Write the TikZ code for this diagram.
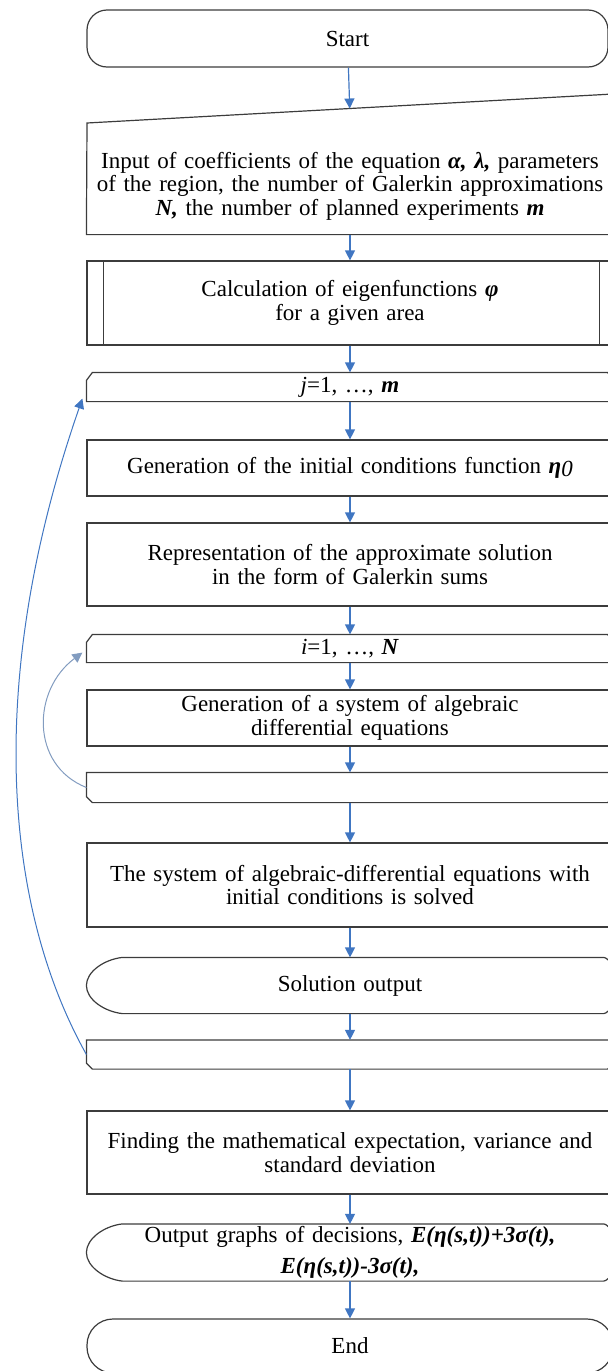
\documentclass[tikz,border=0pt]{standalone}
\usepackage{fontspec}
\setmainfont{Liberation Serif}
\usetikzlibrary{arrows.meta, calc}
\definecolor{flowblue}{RGB}{64,118,194}
\definecolor{loopgray}{RGB}{130,156,192}
\definecolor{edgegray}{RGB}{60,60,60}
\newcommand{\bfit}[1]{\textbf{\textit{#1}}}

\begin{document}
\begin{tikzpicture}[x=0.5pt, y=-0.5pt, line width=0.6pt,
    box/.style={draw=edgegray, minimum width=263pt, text width=258pt, align=center,
      inner sep=0pt, font=\fontsize{11.5}{11.8}\selectfont},
    ghost/.style={box, draw=none},
    outline/.style={draw=edgegray},
    flow/.style={draw=flowblue, -{Triangle[length=5pt, width=5pt]}},
    back/.style={flow, line width=0.5pt}]
  \useasboundingbox (0,0) rectangle (608,1371);
  \clip (0,0) rectangle (608,1371);

  % blocks, top to bottom
  \node[box, rounded corners=10pt, minimum width=260.5pt, minimum height=28.5pt] (start) at (347.5,38.5) {Start};
  \node[ghost, minimum height=48pt] (inp) at (350,186)
    {Input of coefficients of the equation \bfit{α, λ,} parameters\\
     of the region, the number of Galerkin approximations\\
     \bfit{N,} the number of planned experiments \bfit{m}};
  \node[box, minimum height=42pt] (calc) at (350,303)
    {Calculation of eigenfunctions \bfit{φ}\\ for a given area};
  \node[ghost, minimum height=14pt] (jloop) at (350,387) {\textit{j}=1, …, \bfit{m}};
  \node[box, minimum height=28pt] (gen0) at (350,468)
    {Generation of the initial conditions function \bfit{η}\raisebox{-0.3ex}{\textit{0}}};
  \node[box, minimum height=41.5pt] (repr) at (350,564.5)
    {Representation of the approximate solution\\ in the form of Galerkin sums};
  \node[ghost, minimum height=13.5pt] (iloop) at (350,648.5) {\textit{i}=1, …, \bfit{N}};
  \node[box, minimum height=28pt] (gensys) at (350,718)
    {Generation of a system of algebraic\\ differential equations};
  \node[ghost, minimum height=14.5pt] (iend) at (350,787.5) {};
  \node[box, minimum height=42pt] (solve) at (350,885)
    {The system of algebraic-differential equations with\\ initial conditions is solved};
  \node[ghost, minimum height=27.5pt] (outsol) at (350,985.5) {Solution output};
  \node[ghost, minimum height=14pt] (jend) at (350,1054.5) {};
  \node[box, minimum height=41.5pt] (stats) at (350,1152.5)
    {Finding the mathematical expectation, variance and\\ standard deviation};
  \node[ghost, minimum height=28pt] (outgr) at (350,1252.5)
    {Output graphs of decisions, \bfit{E(η(s,t))+3σ(t),}\\[4pt] \bfit{E(η(s,t))-3σ(t),}};
  \node[box, rounded corners=13pt, minimum height=27pt] (fin) at (350,1346) {End};

  % outlines of the special blocks
  \coordinate (inNW) at (87,123);
  \coordinate (inNE) at (613,94);
  \draw[outline] (inp.south west) -- (inNW) -- (inNE) -- (inp.south east) -- cycle;
  \draw[outline] ([xshift=8.5pt]calc.north west) -- ([xshift=8.5pt]calc.south west);
  \draw[outline] ([xshift=-7pt]calc.north east) -- ([xshift=-7pt]calc.south east);
  \foreach \n in {jloop, iloop}
    \draw[outline] ([yshift=-4pt]\n.north west) -- ([xshift=3pt]\n.north west)
      -- ([xshift=-3pt]\n.north east) -- ([yshift=-4pt]\n.north east)
      -- (\n.south east) -- (\n.south west) -- cycle;
  \foreach \n in {iend, jend}
    \draw[outline] (\n.north west) -- (\n.north east) -- ([yshift=3pt]\n.south east)
      -- ([xshift=-3pt]\n.south east) -- ([xshift=3pt]\n.south west)
      -- ([yshift=3pt]\n.south west) -- cycle;
  \foreach \n in {outsol, outgr}
    \draw[outline] ([xshift=18pt]\n.north west) -- ([xshift=-5pt]\n.north east)
      .. controls +(3pt,0) and +(0,6pt) .. ([xshift=2pt]\n.east)
      .. controls +(0,-6pt) and +(3pt,0) .. ([xshift=-5pt]\n.south east)
      -- ([xshift=18pt]\n.south west)
      .. controls +(-9pt,1pt) and +(0,-7pt) .. (\n.west)
      .. controls +(0,7pt) and +(-9pt,-1pt) .. ([xshift=18pt]\n.north west);

  % connectors
  \coordinate (inTop) at ($(inNW)!(start.south)!(inNE)$);
  \draw[flow] (start) -- (inTop);
  \foreach \a/\b in {inp/calc, calc/jloop, jloop/gen0, gen0/repr, repr/iloop,
      iloop/gensys, gensys/iend, iend/solve, solve/outsol, outsol/jend,
      jend/stats, stats/outgr, outgr/fin}
    \draw[flow] (\a) -- (\b);

  % loop returns
  \coordinate (jtip) at ([xshift=-2pt, yshift=1.5pt]jloop.south west);
  \coordinate (itip) at ([xshift=-2pt, yshift=5pt]iloop.south west);
  \draw[back] (jend.west) .. controls (0,900) and (-12,670) .. (jtip);
  \draw[back, draw=loopgray] (iend.west) .. controls (30,765) and (32,690) .. (itip);
\end{tikzpicture}
\end{document}
